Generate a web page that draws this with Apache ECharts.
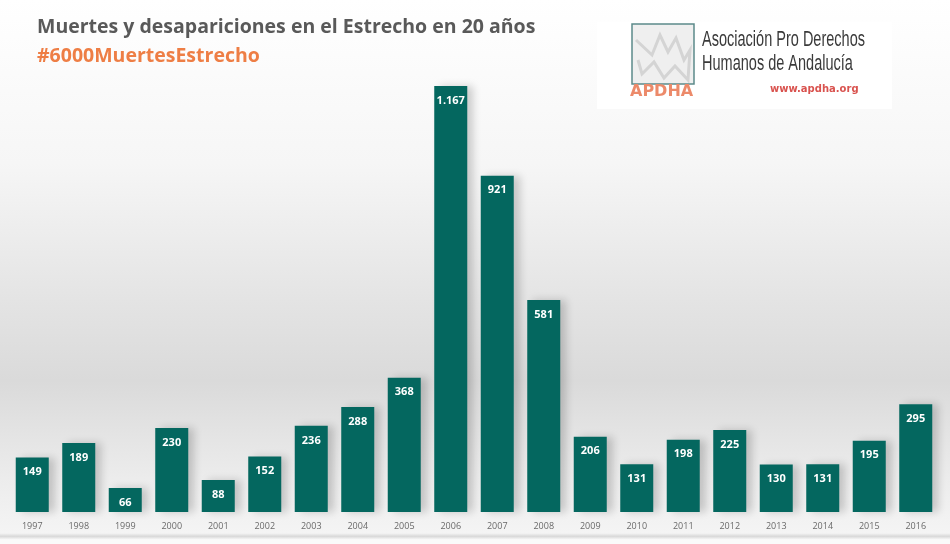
<!DOCTYPE html>
<html><head><meta charset="utf-8">
<script src="https://cdn.jsdelivr.net/npm/echarts@6/dist/echarts.min.js"></script>
<style>html,body{margin:0;padding:0;}#c{width:950px;height:544px;background:linear-gradient(to bottom,#ffffff 0%,#f6f6f6 30%,#e4e4e4 55%,#dadada 70%,#ececec 88%,#f4f4f4 98%,#d9d9d9 98.6%,#fafafa 99.2%);}</style>
</head><body><div id="c"></div>
<script>
const years = ['1997','1998','1999','2000','2001','2002','2003','2004','2005','2006','2007','2008','2009','2010','2011','2012','2013','2014','2015','2016'];
const deaths = [149,189,66,230,88,152,236,288,368,1167,921,581,206,131,198,225,130,131,195,295];
const titleText = 'Muertes y desapariciones en el Estrecho en 20 años';
const subtitleText = '#6000MuertesEstrecho';

const chart = echarts.init(document.getElementById('c'));
chart.setOption({
  backgroundColor: 'transparent',
  animation: false,
  title: [
    {text: titleText, left: 32, top: 12, textStyle: {fontFamily: 'Open Sans', fontWeight: 'bold', fontSize: 19.5, color: '#595959'}},
    {text: subtitleText, left: 32, top: 41, textStyle: {fontFamily: 'Open Sans', fontWeight: 'bold', fontSize: 19.5, color: '#ee7e45'}}
  ],
  grid: {left: 9, right: 11, top: 74, bottom: 32},
  xAxis: {type: 'category', data: years, axisLine: {show: false}, axisTick: {show: false},
    axisLabel: {color: '#6a6a6a', fontSize: 9, fontFamily: 'Open Sans', margin: 10}},
  yAxis: {type: 'value', min: 0, max: 1200, show: false, splitLine: {show: false}},
  series: [{
    type: 'bar', data: deaths, barCategoryGap: '29%',
    itemStyle: {color: '#04675f', shadowColor: 'rgba(0,0,0,0.18)', shadowBlur: 8, shadowOffsetX: 6, shadowOffsetY: 0},
    label: {show: true, position: 'insideTop', distance: 9, color: '#ffffff', fontWeight: 'bold', fontSize: 11, fontFamily: 'Open Sans',
      formatter: p => p.value >= 1000 ? Math.floor(p.value/1000) + '.' + String(p.value%1000).padStart(3,'0') : String(p.value)}
  }],
  graphic: [
    {type: 'rect', shape: {x: 597, y: 22, width: 295, height: 87}, style: {fill: '#ffffff'}, z: 10},
    {type: 'rect', shape: {x: 632, y: 24, width: 62, height: 60}, style: {fill: '#efefef', stroke: '#5c8a8a', lineWidth: 1.5}, z: 11},
    {type: 'polyline', shape: {points: [[636,40],[652,55],[660,35],[668,52],[676,38],[684,60],[690,50],[688,80],[675,66],[664,78],[654,62],[642,74],[638,60]]}, style: {stroke: '#d4d4d4', lineWidth: 3, fill: null}, z: 12},
    {type: 'text', x: 630, y: 84, style: {text: 'APDHA', font: 'bold 16px "DejaVu Sans"', fill: '#ec8a6a'}, z: 12},
    {type: 'text', x: 702, y: 29, scaleX: 0.66, style: {text: 'Asociación Pro Derechos', font: '22px "Liberation Sans"', fill: '#3a3a3a'}, z: 12},
    {type: 'text', x: 702, y: 53, scaleX: 0.66, style: {text: 'Humanos de Andalucía', font: '22px "Liberation Sans"', fill: '#3a3a3a'}, z: 12},
    {type: 'text', x: 770, y: 84, style: {text: 'www.apdha.org', font: 'bold 10px "DejaVu Sans"', fill: '#d9534f'}, z: 12}
  ]
});
</script></body></html>
